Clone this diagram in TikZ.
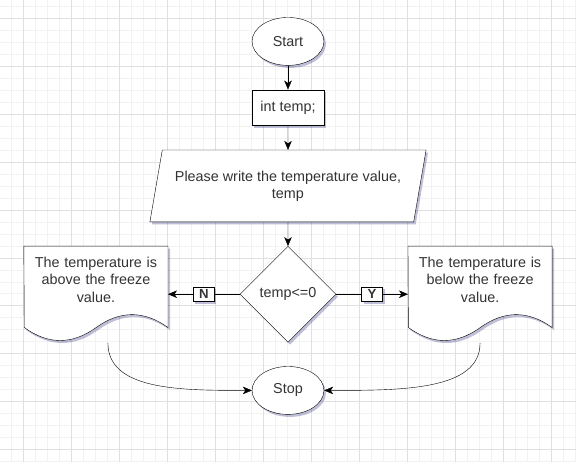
\documentclass[tikz,border=0pt]{standalone}
\usepackage{fontspec}
\setmainfont{Liberation Sans}
\usetikzlibrary{arrows.meta,positioning,shapes.geometric,shadows,calc}
\pgfdeclarelayer{paper}
\pgfdeclarelayer{back}
\pgfsetlayers{paper,back,main}

\begin{document}
\begin{tikzpicture}[x=1pt,y=-1pt,->,>={Stealth[length=9pt,width=7.5pt,inset=2.5pt]},
                    line width=1.4pt,node distance=24pt,
                    font=\fontsize{14.4}{17.3}\selectfont,text=black!80]

  \tikzset{castshadow/.style={drop shadow={shadow xshift=2pt,shadow yshift=-2.5pt,
                                           opacity=0.25,fill=black!60!blue}},
           minorline/.style={-,line width=1pt,black!5},
           majorline/.style={-,line width=1pt,black!12},
           terminal/.style={ellipse,draw,fill=white,castshadow,minimum width=72pt,
                            minimum height=48pt,inner sep=0pt},
           decl/.style={rectangle,draw,fill=white,castshadow,minimum width=72pt,
                        minimum height=36pt},
           io/.style={trapezium,trapezium left angle=70,trapezium right angle=110,
                      trapezium stretches,draw,fill=white,castshadow,
                      minimum width=277pt,minimum height=72pt,inner sep=0pt,
                      align=center},
           decision/.style={diamond,draw,fill=white,castshadow,minimum width=96pt,
                            minimum height=96pt,inner sep=0pt},
           flag/.style={rectangle,draw,fill=white,castshadow,inner sep=0pt,
                        minimum width=21pt,minimum height=15pt,
                        font=\fontsize{13.2}{15}\selectfont\bfseries},
           page/.style={rectangle,minimum width=144pt,minimum height=67.2pt,
                        text width=140pt,align=center,inner sep=0pt},
           outline/.style={-,draw,fill=white,castshadow}}

  \begin{pgfonlayer}{paper}
  \fill[white] (0,0) rectangle (576,462);
  \foreach \gx in {11.5,23.5,...,576} \draw[minorline] (\gx,0) -- (\gx,462);
  \foreach \gy in {6,18,...,462} \draw[minorline] (0,\gy) -- (576,\gy);
  \foreach \gx in {23.5,71.5,...,576} \draw[majorline] (\gx,0) -- (\gx,462);
  \foreach \gy in {18,66,...,462} \draw[majorline] (0,\gy) -- (576,\gy);
  \end{pgfonlayer}
  \useasboundingbox (0,0) rectangle (576,462);

  \node[terminal] (start) at (288,41)   {Start};
  \node[decl]     (vars)  [below=of start] {int temp;};
  \node[io]       (ask)   [below=of vars]  {Please write the temperature value,\\temp};
  \node[decision] (test)  [below=of ask]   {temp<=0};
  \node[terminal] (stop)  [below=of test]  {Stop};

  \node[page] (warm)   [left=72pt of test,yshift=14.4pt]
        {The temperature is\\above the freeze\\value.};
  \node[page] (frozen) [right=72pt of test,yshift=14.4pt]
        {The temperature is\\below the freeze\\value.};

  \begin{pgfonlayer}{back}
  \foreach \pg in {warm,frozen}
    \draw[outline] (\pg.north west) -- (\pg.north east) -- ++(0,81.6)
      .. controls +(-24,-17.28) and +(24,-17.28) .. ++(-72,0)
      .. controls +(-24,17.28) and +(24,17.28) .. ++(-72,0) -- cycle;
  \end{pgfonlayer}

  \coordinate (warmend)   at ($(warm.south)+(12,29.3)$);
  \coordinate (frozenend) at ($(frozen.south)+(0,29.5)$);

  \draw (start) -- (vars);
  \draw (vars) -- (ask);
  \draw (ask) -- (test);
  \draw (test) -- node[flag] {N} (test -| warm.east);
  \draw (test) -- node[flag] {Y} (test -| frozen.west);
  \draw (warmend) .. controls +(0,47.5) and +(-72,0) .. (stop.west);
  \draw (frozenend) .. controls +(0,47.5) and +(78,0) .. (stop.east);
\end{tikzpicture}
\end{document}
